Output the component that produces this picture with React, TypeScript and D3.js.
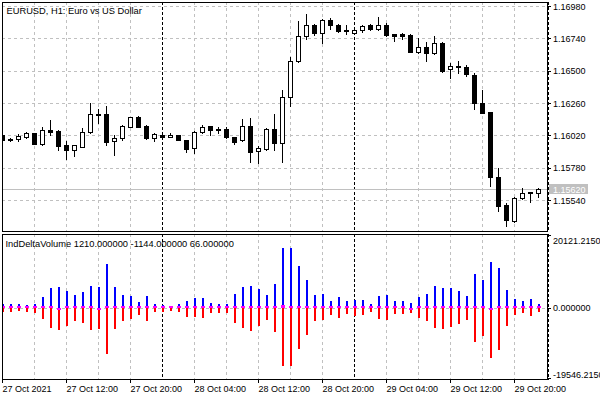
import React from "react";
import * as d3 from "d3";

// ---- DATA ----
const openPrices = [
  1.16022, 1.15995, 1.15991, 1.1601, 1.16035, 1.15956, 1.16062, 1.16054, 1.15948, 1.15913,
  1.15935, 1.16042, 1.16172, 1.16176, 1.15976, 1.15998, 1.16084, 1.16158, 1.16089, 1.15998,
  1.16022, 1.16007, 1.16022, 1.15983, 1.15924, 1.16042, 1.16087, 1.16069, 1.16069, 1.16007,
  1.15983, 1.16087, 1.15901, 1.15921, 1.16067, 1.15966, 1.16302, 1.1657, 1.16757, 1.16837,
  1.16777, 1.16876, 1.16841, 1.168, 1.16777, 1.168, 1.16837, 1.16812, 1.16837, 1.16772,
  1.1677, 1.16767, 1.16641, 1.16674, 1.16629, 1.16708, 1.1651, 1.1653, 1.16527, 1.16468,
  1.16258, 1.16191, 1.15709, 1.15503, 1.15384, 1.15553, 1.15599, 1.1559,
];
const highPrices = [
  1.1603, 1.16002, 1.1603, 1.16047, 1.1604, 1.16084, 1.16134, 1.16057, 1.15978, 1.15948,
  1.16072, 1.16258, 1.16215, 1.16238, 1.16022, 1.16097, 1.16158, 1.16161, 1.16094, 1.1604,
  1.1603, 1.16035, 1.16022, 1.15983, 1.16054, 1.16097, 1.16087, 1.16079, 1.16084, 1.16007,
  1.16141, 1.16146, 1.1594, 1.16077, 1.16176, 1.16356, 1.16599, 1.16869, 1.16921, 1.16844,
  1.16884, 1.16889, 1.16844, 1.16841, 1.16826, 1.16841, 1.16846, 1.16898, 1.16852, 1.16772,
  1.16782, 1.16772, 1.1674, 1.16711, 1.16757, 1.16713, 1.16555, 1.16572, 1.1654, 1.1648,
  1.16356, 1.16191, 1.15776, 1.15515, 1.15565, 1.15631, 1.15601, 1.15631,
];
const lowPrices = [
  1.15978, 1.15976, 1.1598, 1.16002, 1.15954, 1.1595, 1.1602, 1.15911, 1.15847, 1.15869,
  1.15933, 1.16035, 1.16109, 1.15948, 1.15874, 1.15987, 1.16079, 1.16079, 1.15991, 1.1598,
  1.16, 1.16005, 1.15983, 1.15896, 1.15889, 1.16035, 1.16025, 1.16035, 1.16002, 1.15954,
  1.15978, 1.15824, 1.15817, 1.15911, 1.15911, 1.15824, 1.16238, 1.16565, 1.16737, 1.16767,
  1.16708, 1.16812, 1.16789, 1.16772, 1.1677, 1.16785, 1.16802, 1.16802, 1.16757, 1.16722,
  1.16733, 1.16641, 1.16634, 1.16574, 1.16622, 1.16488, 1.16447, 1.1648, 1.16458, 1.16213,
  1.16184, 1.15647, 1.15458, 1.15349, 1.15379, 1.15547, 1.15523, 1.1556,
];
const closePrices = [
  1.15986, 1.15983, 1.16015, 1.16035, 1.15956, 1.16057, 1.16047, 1.15943, 1.15913, 1.15946,
  1.16042, 1.16176, 1.16175, 1.15973, 1.16, 1.16089, 1.16154, 1.16084, 1.15998, 1.16028,
  1.16005, 1.16022, 1.15983, 1.15921, 1.16042, 1.16084, 1.16057, 1.16057, 1.16005, 1.15973,
  1.16087, 1.15898, 1.15928, 1.16067, 1.15966, 1.16302, 1.1657, 1.16755, 1.16837, 1.16777,
  1.16876, 1.16837, 1.16797, 1.16797, 1.168, 1.16834, 1.16812, 1.16837, 1.16767, 1.16755,
  1.16757, 1.16641, 1.16674, 1.16629, 1.16703, 1.16498, 1.16532, 1.16532, 1.16473, 1.16258,
  1.16188, 1.15709, 1.15498, 1.15389, 1.15553, 1.15594, 1.1559, 1.1562,
];

const buyVolume = [
  1100, 1230, 1230, 960, 1150, 3140, 5420, 5880, 4790, 3690,
  4510, 6150, 5880, 12180, 5880, 3690, 3420, 1780, 3420, 1040,
  820, 680, 1040, 2050, 2870, 2870, 1500, 1230, 1230, 3960,
  5880, 6150, 5330, 3690, 6510, 16640, 16640, 11710, 7610, 3500,
  3780, 1860, 3000, 1860, 2130, 2130, 1040, 3230, 3500, 1860,
  1860, 1310, 3000, 3780, 5970, 5420, 5420, 4600, 3230, 9250,
  7610, 12810, 11160, 4870, 2410, 1860, 2410, 1210,
];
const sellVolume = [
  -1000, -1150, -880, -960, -1500, -3060, -5530, -6160, -4980, -3690,
  -4240, -5960, -5880, -12640, -5880, -3690, -3150, -1780, -3690, -960,
  -960, -680, -960, -2330, -2600, -2870, -1500, -1230, -1500, -4240,
  -5610, -6350, -5060, -3420, -6620, -15920, -15920, -11270, -7440, -3610,
  -3340, -1970, -2680, -1700, -2130, -1860, -1150, -3060, -3340, -1700,
  -1700, -1420, -2790, -3610, -5530, -5800, -5250, -4430, -3340, -9360,
  -7720, -13730, -11550, -4980, -1970, -1420, -2240, -1144,
];
const deltaVolume = [
  100, 80, 250, 200, 30, 250, 100, -50, 120, 250,
  270, 270, -80, 50, 270, 270, 270, 100, 220, 280,
  60, 150, 40, 100, 270, 270, 120, 200, 30, 40,
  270, 40, 270, 270, 100, 800, 650, 600, 270, 100,
  270, 60, 80, 50, 250, 250, 50, 250, 80, 60,
  250, -60, 250, 80, 270, 60, 270, 40, 60, 100,
  60, -600, 60, 60, 600, 270, 60, 66,
];

const priceTicks = [1.1698, 1.1674, 1.165, 1.1626, 1.1602, 1.1578, 1.1554];
const lastPrice = 1.1562;
const timeTickIndex = [0, 8, 16, 24, 32, 40, 48, 56, 64];
const timeTickLabels = [
  "27 Oct 2021", "27 Oct 12:00", "27 Oct 20:00", "28 Oct 04:00", "28 Oct 12:00",
  "28 Oct 20:00", "29 Oct 04:00", "29 Oct 12:00", "29 Oct 20:00",
];
const gridIndex = [4, 8, 12, 16, 24, 28, 32, 36, 40, 48, 52, 56, 60, 64];
const separatorIndex = [20, 44];
const subMin = -19546.215;
const subMax = 20121.215;
const subLabels = ["20121.2150", "0.000000", "-19546.2150"];
const mainTitle = "EURUSD, H1:  Euro vs US Dollar";
const indTitle = "IndDeltaVolume 1210.000000 -1144.000000 66.000000";

// ---- LAYOUT ----
const W = 600, H = 400;
const L = 2, R = 547;
const mainTop = 2, mainBottom = 231;
const subTop = 234, subBottom = 379;
const FONT = "'Liberation Sans', Arial, sans-serif";
const GRID = "#c0c0c0";

export default function App() {
  const n = closePrices.length;
  const x = d3.scaleLinear().domain([0, n - 1]).range([2.5, 538.5]);
  const y = d3.scaleLinear().domain([priceTicks[priceTicks.length - 1], priceTicks[0]]).range([200, 6]);
  const ys = d3.scaleLinear().domain([subMin, subMax]).range([379, 235]);
  const snap = (v: number) => Math.round(v) + 0.5;
  const y0 = ys(0);

  return (
    <svg width={W} height={H} style={{ position: "absolute", left: 0, top: 0, display: "block", background: "#fff" }}>
      <defs>
        <clipPath id="mainClip"><rect x={L + 0.5} y={mainTop} width={R - L - 0.5} height={mainBottom - mainTop} /></clipPath>
        <clipPath id="subClip"><rect x={L + 0.5} y={subTop} width={R - L - 0.5} height={subBottom - subTop} /></clipPath>
      </defs>
      <rect x={0} y={0} width={W} height={H} fill="#fff" />

      {/* grid: main */}
      <g stroke={GRID} strokeWidth={1} strokeDasharray="3,3" shapeRendering="crispEdges">
        {priceTicks.map((p, i) => (
          <line key={"h" + i} x1={L} x2={R} y1={snap(y(p))} y2={snap(y(p))} />
        ))}
        {gridIndex.map((gi) => (
          <g key={"v" + gi}>
            <line x1={x(gi)} x2={x(gi)} y1={mainTop} y2={mainBottom} />
            <line x1={x(gi)} x2={x(gi)} y1={subTop} y2={subBottom} />
          </g>
        ))}
        <line x1={L} x2={R} y1={snap(y0)} y2={snap(y0)} />
      </g>
      <g stroke="#000" strokeWidth={1} strokeDasharray="3,2" shapeRendering="crispEdges">
        {separatorIndex.map((si) => (
          <g key={"s" + si}>
            <line x1={x(si)} x2={x(si)} y1={mainTop} y2={mainBottom} />
            <line x1={x(si)} x2={x(si)} y1={subTop} y2={subBottom} />
          </g>
        ))}
      </g>

      {/* last price line */}
      <line x1={L} x2={R} y1={snap(y(lastPrice))} y2={snap(y(lastPrice))} stroke="#c0c0c0" strokeWidth={1} shapeRendering="crispEdges" />

      {/* candles */}
      <g clipPath="url(#mainClip)" shapeRendering="crispEdges">
        {closePrices.map((c, i) => {
          const o = openPrices[i];
          const cx = x(i);
          const top = snap(y(Math.max(o, c)));
          const bot = snap(y(Math.min(o, c)));
          const bear = c < o;
          return (
            <g key={"c" + i}>
              <line x1={cx} x2={cx} y1={Math.round(y(highPrices[i]))} y2={Math.round(y(lowPrices[i])) + 1} stroke="#000" />
              <rect x={cx - 2} y={top} width={4} height={Math.max(bot - top, 0)} fill={bear ? "#000" : "#fff"} stroke="#000" strokeWidth={1} />
            </g>
          );
        })}
      </g>

      {/* indicator histograms */}
      <g clipPath="url(#subClip)" shapeRendering="crispEdges">
        {buyVolume.map((b, i) => (
          <rect key={"b" + i} x={x(i) - 1} y={ys(b)} width={2} height={y0 - ys(b)} fill="#0000ff" />
        ))}
        {sellVolume.map((s, i) => (
          <rect key={"r" + i} x={x(i) - 1} y={y0} width={2} height={ys(s) - y0} fill="#ff0000" />
        ))}
        {deltaVolume.map((d, i) => {
          const h = Math.max(Math.abs(ys(d) - y0), 2);
          return (
            <rect key={"d" + i} x={x(i) - 2} y={d >= 0 ? y0 - h : y0} width={4} height={h} fill="#ff00ff" />
          );
        })}
      </g>

      {/* frames */}
      <g stroke="#000" strokeWidth={1} shapeRendering="crispEdges" fill="none">
        <line x1={L} x2={R + 1} y1={mainTop + 0.5} y2={mainTop + 0.5} />
        <line x1={L} x2={R + 1} y1={mainBottom + 0.5} y2={mainBottom + 0.5} />
        <line x1={L} x2={R + 1} y1={subTop + 0.5} y2={subTop + 0.5} />
        <line x1={L} x2={R + 1} y1={subBottom + 0.5} y2={subBottom + 0.5} />
        <line x1={L + 0.5} x2={L + 0.5} y1={mainTop} y2={mainBottom + 1} />
        <line x1={L + 0.5} x2={L + 0.5} y1={subTop} y2={subBottom + 1} />
        <line x1={R + 0.5} x2={R + 0.5} y1={mainTop} y2={mainBottom + 1} />
        <line x1={R + 0.5} x2={R + 0.5} y1={subTop} y2={subBottom + 1} />
        <line x1={R + 1.5} x2={R + 1.5} y1={mainTop} y2={mainBottom + 1} strokeDasharray="3,2" />
        <line x1={R + 1.5} x2={R + 1.5} y1={subTop} y2={subBottom + 1} strokeDasharray="3,2" />
        {priceTicks.map((p, i) => (
          <line key={"pt" + i} x1={R} x2={R + 4} y1={snap(y(p))} y2={snap(y(p))} />
        ))}
        {[subTop + 1, y0, subBottom - 1].map((v, i) => (
          <line key={"st" + i} x1={R} x2={R + 4} y1={snap(v)} y2={snap(v)} />
        ))}
        {timeTickIndex.map((ti) => (
          <line key={"tt" + ti} x1={x(ti)} x2={x(ti)} y1={subBottom} y2={subBottom + 4} />
        ))}
      </g>

      {/* texts */}
      <g fontFamily={FONT} fontSize={9} fill="#000">
        {priceTicks.map((p, i) => (
          <text key={"pl" + i} x={553} y={y(p) + 3.5}>{p.toFixed(5)}</text>
        ))}
        <rect x={549} y={snap(y(lastPrice)) - 5.5} width={39} height={10} fill="#c0c0c0" />
        <text x={553} y={y(lastPrice) + 3.5} fill="#fff">{lastPrice.toFixed(5)}</text>
        <text x={553} y={243.5}>{subLabels[0]}</text>
        <text x={553} y={310.5}>{subLabels[1]}</text>
        <text x={553} y={377.5}>{subLabels[2]}</text>
        {timeTickIndex.map((ti, i) => (
          <text key={"tl" + ti} x={x(ti)} y={391.5}>{timeTickLabels[i]}</text>
        ))}
      </g>
      <g fontFamily={FONT} fontSize={9.3} fill="#000" style={{ whiteSpace: "pre" }}>
        <text x={6.5} y={13.5}>{mainTitle}</text>
        <text x={5.5} y={246.5}>{indTitle}</text>
      </g>
    </svg>
  );
}
